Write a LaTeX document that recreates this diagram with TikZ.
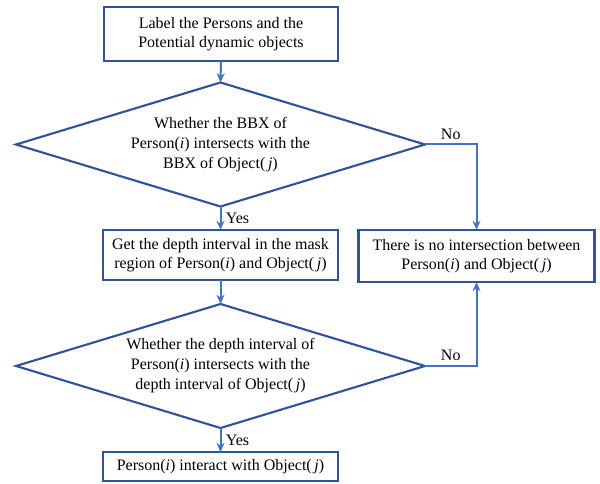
\documentclass[tikz,border=0pt]{standalone}
\usepackage{fontspec}
\setmainfont{Liberation Serif}
\usetikzlibrary{arrows.meta,shapes.geometric}
\definecolor{boxblue}{HTML}{2F5597}
\definecolor{arrowblue}{HTML}{4472C4}
\begin{document}
\begin{tikzpicture}[x=0.75pt,y=-0.75pt,
  every node/.style={font=\fontsize{12pt}{14.4pt}\selectfont, inner sep=0pt, outer sep=0pt},
  procbox/.style={draw=boxblue, line width=1.6pt, align=center, minimum height=#1},
  decision/.style={draw=boxblue, line width=1.6pt, diamond, aspect=3.3, align=center, minimum width=409*0.75pt, minimum height=124*0.75pt, font=\fontsize{12pt}{15pt}\selectfont},
  flow/.style={draw=arrowblue, line width=1.5pt, -{Stealth[length=7pt,width=6pt]}},
  lbl/.style={font=\fontsize{12pt}{14pt}\selectfont}]
\useasboundingbox (0,0) rectangle (600,484);
\node[procbox=40pt, minimum width=176pt] (label) at (221,34) {Label the Persons and the\\Potential dynamic objects};
\node[decision] (d1) at (220.5,144.5) {Whether the BBX of\\Person(\textit{i}) intersects with the\\BBX of Object(\,\textit{j})};
\node[procbox=37.5pt, minimum width=176pt] (depth) at (220.5,255) {Get the depth interval in the mask\\region of Person(\textit{i}) and Object(\,\textit{j})};
\node[procbox=39pt, minimum width=177pt] (none) at (476.5,256) {There is no intersection between\\Person(\textit{i}) and Object(\,\textit{j})};
\node[decision] (d2) at (220.5,366) {Whether the depth interval of\\Person(\textit{i}) intersects with the\\depth interval of Object(\,\textit{j})};
\node[procbox=21.5pt, minimum width=176pt] (inter) at (220.5,466.5) {Person(\textit{i}) interact with Object(\,\textit{j})};
\draw[flow] (label.south) -- (d1.north);
\draw[flow] (d1.south) -- node[lbl, right, xshift=4pt] {Yes} (depth.north);
\draw[flow] (depth.south) -- (d2.north);
\draw[flow] (d2.south) -- node[lbl, right, xshift=4pt] {Yes} (inter.north);
\draw[flow] (d1.east) -- node[lbl, above, yshift=4pt] {No} (d1.east -| none.north) -- (none.north);
\draw[flow] (d2.east) -- node[lbl, above, yshift=4pt] {No} (d2.east -| none.south) -- (none.south);
\end{tikzpicture}
\end{document}
